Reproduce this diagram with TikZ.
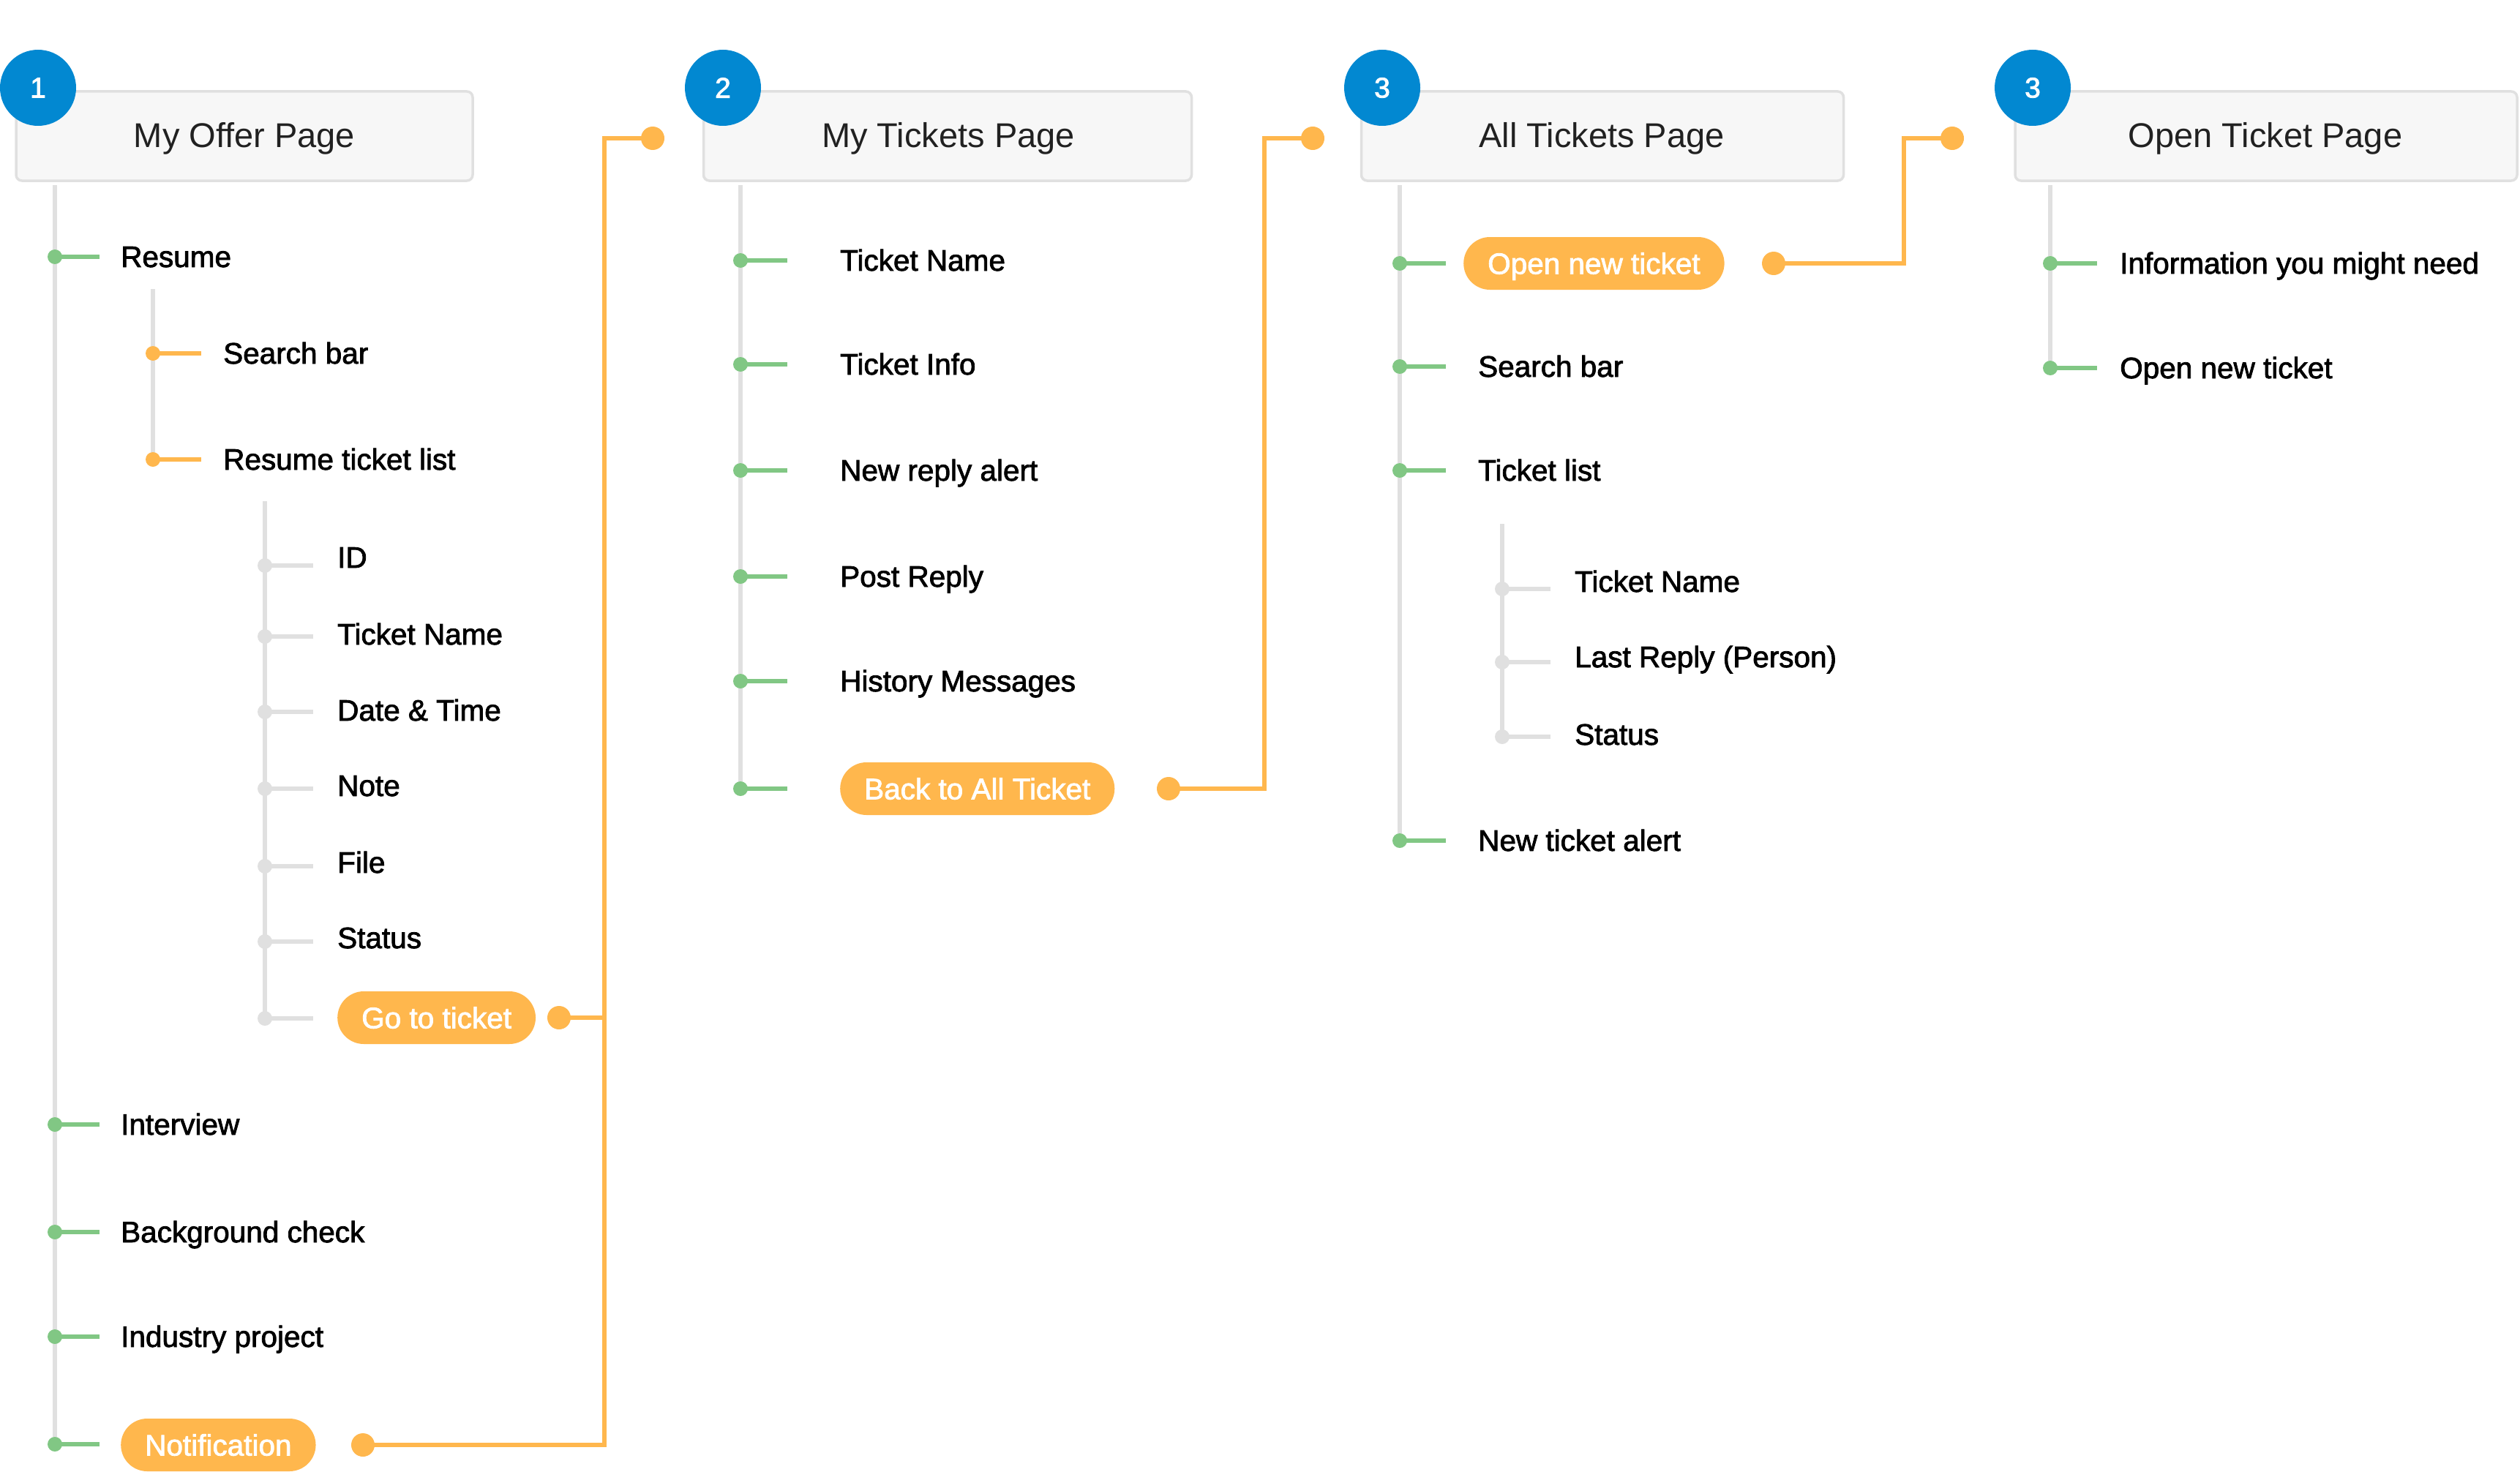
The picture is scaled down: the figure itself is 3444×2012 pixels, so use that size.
\documentclass[tikz,border=0pt]{standalone}
\usepackage{fontspec}
\setmainfont{Liberation Sans}
\newfontfamily\medfont{Liberation Sans}[FakeBold=2]
\definecolor{cblue}{HTML}{0288D1}
\definecolor{corange}{HTML}{FFB74D}
\definecolor{cgreen}{HTML}{81C784}
\definecolor{cgray}{HTML}{E0E0E0}
\definecolor{cbox}{HTML}{F7F7F7}
\definecolor{ctitle}{HTML}{212121}
\newcommand\itm[8]{%
  \node[#2dot] (#1d) at (#3,#4) {};
  \coordinate (#1e) at (#5,#4);
  \draw[#2line] (#1d.center) -- (#1e);
  \node[itemtext] (#1t) at (#6,#7) {#8};
}
\begin{document}
\begin{tikzpicture}[x=1pt,y=-1pt,
  pagebox/.style={draw=cgray, line width=3.5pt, fill=cbox, rounded corners=8pt, inner sep=0pt},
  titletext/.style={anchor=base, inner sep=0pt, text=ctitle, font=\fontsize{47}{56}\selectfont},
  badge/.style={circle, fill=cblue, minimum size=104pt, inner sep=0pt, text=white, font=\medfont\fontsize{39}{44}\selectfont},
  itemtext/.style={anchor=base west, inner sep=0pt, text=black, font=\medfont\fontsize{40.5}{48}\selectfont},
  pill/.style={anchor=west, fill=corange, rounded corners=36pt, minimum height=72pt, inner ysep=0pt, inner xsep=33pt, text height=29pt, text depth=0pt, text=white, font=\medfont\fontsize{40.5}{48}\selectfont},
  trunk/.style={draw=cgray, line width=6pt},
  gdot/.style={circle, fill=cgreen, minimum size=20pt, inner sep=0pt},
  odot/.style={circle, fill=corange, minimum size=20pt, inner sep=0pt},
  ydot/.style={circle, fill=cgray, minimum size=20pt, inner sep=0pt},
  gline/.style={draw=cgreen, line width=6pt},
  oline/.style={draw=corange, line width=6pt},
  yline/.style={draw=cgray, line width=6pt},
  bigdot/.style={circle, fill=corange, minimum size=32pt, inner sep=0pt},
  conn/.style={draw=corange, line width=5.5pt},
]
\path[use as bounding box, fill=white] (0,0) rectangle (3444,2012);

% ---------------- trunks ----------------
\coordinate (t1a) at (75,253);   \coordinate (t1b) at (75,1974);
\coordinate (s1a) at (209,395);  \coordinate (s1b) at (209,628);
\coordinate (u1a) at (362,685);  \coordinate (u1b) at (362,1392);
\coordinate (t2a) at (1012,253); \coordinate (t2b) at (1012,1078);
\coordinate (t3a) at (1913,253); \coordinate (t3b) at (1913,1151);
\coordinate (s3a) at (2053,716); \coordinate (s3b) at (2053,1007);
\coordinate (t4a) at (2802,253); \coordinate (t4b) at (2802,503);
\draw[trunk] (t1a) -- (t1b);
\draw[trunk] (s1a) -- (s1b);
\draw[trunk] (u1a) -- (u1b);
\draw[trunk] (t2a) -- (t2b);
\draw[trunk] (t3a) -- (t3b);
\draw[trunk] (s3a) -- (s3b);
\draw[trunk] (t4a) -- (t4b);

% ---------------- page boxes ----------------
\node[pagebox, minimum width=624pt, minimum height=122pt] (box1) at (334,186) {};
\node[pagebox, minimum width=667pt, minimum height=122pt] (box2) at (1295,186) {};
\node[pagebox, minimum width=659pt, minimum height=122pt] (box3) at (2190,186) {};
\node[pagebox, minimum width=686pt, minimum height=122pt] (box4) at (3097,186) {};
\node[titletext] (ti1) at (334,202) {My Offer Page};
\node[titletext] (ti2) at (1296,202) {My Tickets Page};
\node[titletext] (ti3) at (2189,202) {All Tickets Page};
\node[titletext] (ti4) at (3096,202) {Open Ticket Page};
\node[badge] (n1) at (52,120) {1};
\node[badge] (n2) at (988,120) {2};
\node[badge] (n3) at (1889,120) {3};
\node[badge] (n4) at (2778,120) {3};

% ---------------- column 1 ----------------
\itm{a1}{g}{75}{351}{136}{165}{365}{Resume}
\itm{a2}{g}{75}{1537}{136}{165}{1551}{Interview}
\itm{a3}{g}{75}{1684}{136}{165}{1698}{Background check}
\itm{a4}{g}{75}{1827}{136}{165}{1841}{Industry project}
\node[gdot] (a5d) at (75,1974) {};
\coordinate (a5e) at (136,1974);
\draw[gline] (a5d.center) -- (a5e);
\node[pill] (notif) at (165,1975) {Notification};

\itm{b1}{o}{209}{483}{275}{305}{497}{Search bar}
\itm{b2}{o}{209}{628}{275}{305}{642}{Resume ticket list}

\itm{c1}{y}{362}{773}{428}{461}{776}{ID}
\itm{c2}{y}{362}{870}{428}{461}{881}{Ticket Name}
\itm{c3}{y}{362}{973}{428}{461}{985}{Date \& Time}
\itm{c4}{y}{362}{1078}{428}{461}{1088}{Note}
\itm{c5}{y}{362}{1184}{428}{461}{1193}{File}
\itm{c6}{y}{362}{1287}{428}{461}{1296}{Status}
\node[ydot] (c7d) at (362,1392) {};
\coordinate (c7e) at (428,1392);
\draw[yline] (c7d.center) -- (c7e);
\node[pill] (goto) at (461,1391) {Go to ticket};

% ---------------- column 2 ----------------
\itm{d1}{g}{1012}{356}{1076}{1148}{370}{Ticket Name}
\itm{d2}{g}{1012}{498}{1076}{1148}{512}{Ticket Info}
\itm{d3}{g}{1012}{643}{1076}{1148}{657}{New reply alert}
\itm{d4}{g}{1012}{788}{1076}{1148}{802}{Post Reply}
\itm{d5}{g}{1012}{931}{1076}{1148}{945}{History Messages}
\node[gdot] (d6d) at (1012,1078) {};
\coordinate (d6e) at (1076,1078);
\draw[gline] (d6d.center) -- (d6e);
\node[pill] (back) at (1148,1078) {Back to All Ticket};

% ---------------- column 3 ----------------
\node[gdot] (e1d) at (1913,360) {};
\coordinate (e1e) at (1976,360);
\draw[gline] (e1d.center) -- (e1e);
\node[pill] (open) at (2000,360) {Open new ticket};
\itm{e2}{g}{1913}{501}{1976}{2020}{515}{Search bar}
\itm{e3}{g}{1913}{643}{1976}{2020}{657}{Ticket list}
\itm{e4}{g}{1913}{1149}{1976}{2020}{1163}{New ticket alert}
\itm{f1}{y}{2053}{805}{2119}{2152}{809}{Ticket Name}
\itm{f2}{y}{2053}{905}{2119}{2152}{912}{Last Reply (Person)}
\itm{f3}{y}{2053}{1007}{2119}{2152}{1018}{Status}

% ---------------- column 4 ----------------
\itm{g1}{g}{2802}{360}{2866}{2897}{374}{Information you might need}
\itm{g2}{g}{2802}{503}{2866}{2897}{517}{Open new ticket}

% ---------------- orange connectors ----------------
\node[bigdot] (k1s) at (764,1391) {};
\node[bigdot] (k1n) at (496,1975) {};
\node[bigdot] (k1t) at (892,189) {};
\coordinate (k1c) at (826,189);
\draw[conn] (k1n.center) -| (k1c) -- (k1t.center);
\draw[conn] (k1s.center) -- (k1s.center -| k1c);

\node[bigdot] (k2s) at (1597,1078) {};
\node[bigdot] (k2t) at (1794,189) {};
\coordinate (k2c) at (1728,189);
\draw[conn] (k2s.center) -| (k2c) -- (k2t.center);

\node[bigdot] (k3s) at (2424,360) {};
\node[bigdot] (k3t) at (2668,189) {};
\coordinate (k3c) at (2602,189);
\draw[conn] (k3s.center) -| (k3c) -- (k3t.center);
\end{tikzpicture}
\end{document}
